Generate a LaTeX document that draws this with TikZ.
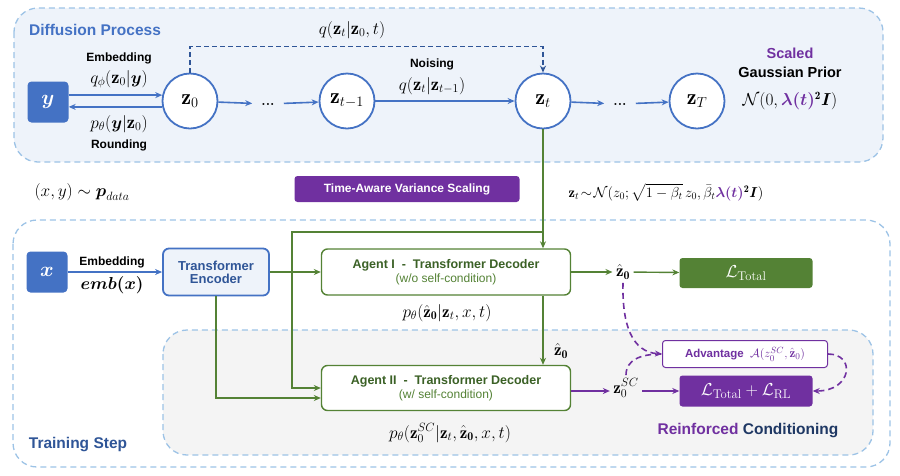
\documentclass[tikz,border=0pt]{standalone}
\usepackage{amsmath, amssymb}
\usepackage{fontspec}
\setsansfont{Liberation Sans}
\usetikzlibrary{positioning, arrows.meta}

\definecolor{dpblue}{HTML}{4472C4}
\definecolor{dpnavy}{HTML}{2F5597}
\definecolor{dpdeep}{HTML}{1F3864}
\definecolor{dpline}{HTML}{9DC3E6}
\definecolor{dpbg}{HTML}{EEF3FA}
\definecolor{dpgray}{HTML}{F4F4F4}
\definecolor{dpgreen}{HTML}{548235}
\definecolor{dpdkgreen}{HTML}{3B6126}
\definecolor{dppurple}{HTML}{7030A0}

\newcommand{\fsz}[1]{\fontsize{#1}{#1}\selectfont}

\tikzset{
    panel/.style={draw=dpline, line width=1.3pt, dash pattern=on 6pt off 4pt, rounded corners=24pt},
    latent/.style={circle, draw=dpblue, line width=1.8pt, fill=white, minimum size=55pt, inner sep=0pt, font=\fsz{22}},
    inbox/.style={rectangle, rounded corners=4pt, fill=dpblue, minimum size=41pt, text=white, font=\fsz{21}},
    encbox/.style={rectangle, rounded corners=6pt, draw=dpblue, line width=1.8pt, fill=dpbg, minimum width=106pt, minimum height=47pt, align=center, text=dpnavy, font=\sffamily\bfseries\fsz{13}},
    agentbox/.style={rectangle, rounded corners=6pt, draw=dpgreen, line width=1.4pt, fill=white, minimum width=249pt, minimum height=46pt, align=center, text=dpdkgreen, font=\sffamily\bfseries\fsz{12.5}},
    lossbox/.style={rectangle, rounded corners=3pt, minimum width=133pt, minimum height=30pt, text=white, font=\fsz{18}},
    lbl/.style={font=\sffamily\bfseries\fsz{12}},
    head/.style={font=\sffamily\bfseries\fsz{15.5}},
    mlbl/.style={font=\fsz{18.5}},
    plbl/.style={font=\fsz{17}},
    dots/.style={inner xsep=9pt, font=\bfseries\fsz{14}},
    blueline/.style={draw=dpblue, line width=1.6pt},
    greenline/.style={draw=dpgreen, line width=1.4pt},
    purpleline/.style={draw=dppurple, line width=1.4pt},
    purpledash/.style={draw=dppurple, line width=1.6pt, dash pattern=on 6pt off 4pt},
}

\begin{document}
\begin{tikzpicture}[x=1pt, y=-1pt, font=\sffamily, >={Stealth[length=7pt, width=6pt]}]
    \useasboundingbox (0,0) rectangle (900,475);

    % panels
    \draw[panel, fill=dpbg] (14,8) rectangle (883,162);
    \draw[panel] (13,220) rectangle (890,467);
    \draw[panel, fill=dpgray] (163,330) rectangle (873,455);
    \node[head, text=dpblue] at (95,30) {Diffusion Process};
    \node[head, text=dpnavy] at (78,445) {Training Step};
    \node[head] at (748,431) {\textcolor{dppurple}{Reinforced} \textcolor{dpdeep}{Conditioning}};

    % diffusion chain
    \node[inbox] at (48,102) (y) {$\boldsymbol{y}$};
    \node[latent] at (190,101) (z0) {$\mathbf{z}_0$};
    \node[dots] at (268,104) (d1) {...};
    \node[latent] at (347,101) (zt1) {$\mathbf{z}_{t-1}$};
    \node[latent] at (543,101) (zt) {$\mathbf{z}_t$};
    \node[dots] at (620,104) (d2) {...};
    \node[latent] at (697,101) (zT) {$\mathbf{z}_T$};

    \draw[->, blueline] (y.east |- z0.168) -- (z0.168);
    \draw[->, blueline] (z0.192) -- (y.east |- z0.192);
    \node[lbl] at (119,58) {Embedding};
    \node[mlbl] at (119,79) {$q_\phi(\mathbf{z}_0|\boldsymbol{y})$};
    \node[mlbl] at (119,124) {$p_\theta(\boldsymbol{y}|\mathbf{z}_0)$};
    \node[lbl] at (119,145) {Rounding};

    \draw[->, blueline] (z0) -- (d1);
    \draw[->, blueline] (d1) -- (zt1);
    \draw[->, blueline] (zt1) -- (zt);
    \node[lbl] at (432,64) {Noising};
    \node[mlbl] at (432,86) {$q(\mathbf{z}_t|\mathbf{z}_{t-1})$};
    \draw[->, blueline] (zt) -- (d2);
    \draw[->, blueline] (d2) -- (zT);

    \draw[->, draw=dpnavy, line width=1.3pt, dash pattern=on 5pt off 3pt] (z0.north) -- ++(0,-26) -| (zt.north);
    \node[mlbl] at (352,30) {$q(\mathbf{z}_t|\mathbf{z}_0,t)$};

    \node[font=\sffamily\bfseries\fsz{14.5}, text=dppurple] at (790,53) {Scaled};
    \node[font=\sffamily\bfseries\fsz{14.5}] at (790,72) {Gaussian Prior};
    \node[font=\fsz{16}] at (790,101) {$\mathcal{N}(0,\textcolor{dppurple}{\boldsymbol{\lambda(t)}}^{\mathbf{2}}\boldsymbol{I})$};

    % middle
    \node[font=\fsz{18}] at (82,192) {$(x,y)\sim\boldsymbol{p}_{data}$};
    \node[rectangle, rounded corners=3pt, fill=dppurple, minimum width=225pt, minimum height=26pt, text=white, font=\sffamily\bfseries\fsz{12}] at (407,189) (tavs) {Time-Aware Variance Scaling};
    \node[font=\fsz{14.5}] at (666,192) {$\mathbf{z}_t\!\sim\!\mathcal{N}(z_0;\sqrt{1-\bar{\beta}_t}\,z_0,\bar{\beta}_t\textcolor{dppurple}{\boldsymbol{\lambda(t)}}^{\mathbf{2}}\boldsymbol{I})$};

    % training step
    \node[inbox] at (47,272) (x) {$\boldsymbol{x}$};
    \node[encbox] at (216,272) (enc) {Transformer\\Encoder};
    \node[agentbox] at (446,272) (agentA) {Agent I \ - \ Transformer Decoder\\[1pt]{\mdseries\fsz{12}\textcolor{dpgreen}{(w/o self-condition)}}};
    \node[agentbox, minimum height=45pt] at (446,388) (agentB) {Agent II \ - \ Transformer Decoder\\[1pt]{\mdseries\fsz{12}\textcolor{dpgreen}{(w/ self-condition)}}};
    \node[plbl] at (447,313) {$p_\theta(\hat{\mathbf{z}}_{\mathbf{0}}|\mathbf{z}_t,x,t)$};
    \node[plbl] at (450,433) {$p_\theta(\mathbf{z}_0^{SC}|\mathbf{z}_t,\hat{\mathbf{z}}_{\mathbf{0}},x,t)$};

    \draw[->, line width=1.4pt, draw=dpblue] (x) -- (enc);
    \node[lbl] at (112,262) {Embedding};
    \node[font=\fsz{17}] at (112,285) {$\boldsymbol{emb(x)}$};

    \coordinate (gsplit) at (543,232);
    \coordinate (gleft) at (292,232);
    \draw[greenline] (zt.south) -- (gsplit);
    \draw[->, greenline] (gsplit) -- (gsplit |- agentA.north);
    \draw[->, greenline] (gsplit) -- (gleft) |- (agentB.west);
    \draw[->, greenline] (enc) -- (agentA);
    \draw[->, greenline] (enc.south) |- ([yshift=-10pt]agentB.west);
    \draw[->, greenline] (gsplit |- agentA.south) -- (gsplit |- agentB.north);
    \node[font=\fsz{17}] at (561,351) {$\hat{\mathbf{z}}_{\mathbf{0}}$};

    % outputs
    \node[font=\fsz{17}] at (623,272) (zhat) {$\hat{\mathbf{z}}_{\mathbf{0}}$};
    \node[lossbox, fill=dpgreen] at (746,273) (ltot) {$\mathcal{L}_{\text{Total}}$};
    \draw[->, greenline] (agentA) -- (zhat);
    \draw[->, greenline] (zhat) -- (ltot);

    \node[font=\fsz{17}] at (626,388) (zsc) {$\mathbf{z}_0^{SC}$};
    \node[lossbox, fill=dppurple, minimum height=31pt] at (746,391) (lrl) {$\mathcal{L}_{\text{Total}}+\mathcal{L}_{\text{RL}}$};
    \node[rectangle, rounded corners=3pt, draw=dppurple, line width=1pt, fill=white, minimum width=165pt, minimum height=27pt, text=dppurple, font=\sffamily\bfseries\fsz{11.5}] at (745,354) (adv) {Advantage \ {\mdseries\fsz{13}$\mathcal{A}(z_0^{SC},\hat{\mathbf{z}}_0)$}};
    \draw[->, purpleline] (agentB.east |- lrl) -- (zsc.west |- lrl);
    \draw[->, purpleline] (zsc.east |- lrl) -- (lrl);

    \draw[->, purpledash] (zhat.south) .. controls (622,325) and (632,352) .. (adv.west);
    \draw[purpledash] (zsc.north) .. controls (626,360) and (640,354) .. (adv.west);
    \draw[->, purpledash] (adv.east) .. controls (856,354) and (852,391) .. (lrl.east);
\end{tikzpicture}
\end{document}
